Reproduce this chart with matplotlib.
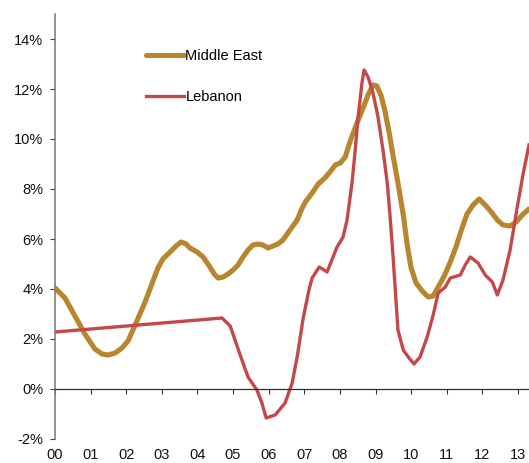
import matplotlib
matplotlib.use('Agg')
import matplotlib.pyplot as plt

plt.rcParams['font.family'] = ['Liberation Sans', 'DejaVu Sans']

# years since 2000 (decimal) and growth in %
me_x = [0.00, 0.28, 0.56, 0.84, 1.12, 1.32, 1.49, 1.69, 1.88, 2.05, 2.25, 2.53, 2.72, 2.89,
        3.03, 3.23, 3.40, 3.54, 3.68, 3.79, 3.99, 4.16, 4.35, 4.47, 4.58, 4.72, 4.86, 5.00,
        5.14, 5.28, 5.42, 5.56, 5.70, 5.84, 5.98, 6.12, 6.26, 6.40, 6.60, 6.80, 6.94, 7.05,
        7.22, 7.39, 7.58, 7.72, 7.87, 8.01, 8.15, 8.29, 8.48, 8.65, 8.79, 8.93, 9.04, 9.16,
        9.27, 9.38, 9.49, 9.63, 9.78, 9.89, 10.00, 10.14, 10.31, 10.48, 10.62, 10.76, 10.93,
        11.10, 11.26, 11.43, 11.57, 11.74, 11.91, 12.08, 12.25, 12.42, 12.58, 12.78, 12.95,
        13.12, 13.31]
me_y = [4.04, 3.64, 2.92, 2.20, 1.60, 1.40, 1.36, 1.44, 1.64, 1.92, 2.56, 3.48, 4.20, 4.84,
        5.20, 5.48, 5.72, 5.88, 5.80, 5.64, 5.48, 5.28, 4.88, 4.60, 4.44, 4.48, 4.60, 4.76,
        4.96, 5.28, 5.56, 5.76, 5.80, 5.76, 5.64, 5.72, 5.80, 5.96, 6.36, 6.76, 7.24, 7.52,
        7.84, 8.20, 8.44, 8.68, 8.96, 9.04, 9.28, 9.92, 10.64, 11.24, 11.76, 12.16, 12.12, 11.72,
        11.08, 10.28, 9.36, 8.24, 6.96, 5.76, 4.84, 4.24, 3.92, 3.68, 3.72, 4.08, 4.52,
        5.08, 5.68, 6.44, 7.00, 7.36, 7.60, 7.36, 7.08, 6.76, 6.56, 6.52, 6.68,
        6.96, 7.20]

leb_x = [0.00, 4.69, 4.92, 5.20, 5.42, 5.67, 5.81, 5.93, 6.18, 6.46, 6.66, 6.80, 6.97, 7.13,
         7.22, 7.42, 7.64, 7.92, 8.09, 8.20, 8.34, 8.43, 8.51, 8.62, 8.68, 8.79, 8.93, 9.07,
         9.21, 9.33, 9.41, 9.49, 9.55, 9.63, 9.78, 9.92, 10.08, 10.25, 10.45, 10.62, 10.76,
         10.96, 11.10, 11.38, 11.52, 11.66, 11.88, 12.08, 12.28, 12.42, 12.58, 12.78, 12.98,
         13.15, 13.31]
leb_y = [2.28, 2.84, 2.52, 1.36, 0.48, -0.04, -0.56, -1.16, -1.04, -0.56, 0.24, 1.28, 2.84, 3.96,
         4.44, 4.88, 4.68, 5.68, 6.08, 6.76, 8.24, 9.56, 10.88, 12.24, 12.76, 12.48, 11.84, 10.88,
         9.56, 8.24, 6.88, 5.36, 4.08, 2.36, 1.56, 1.28, 1.00, 1.28, 2.08, 2.96, 3.84,
         4.08, 4.44, 4.56, 4.96, 5.28, 5.04, 4.56, 4.28, 3.76, 4.36, 5.56, 7.28,
         8.64, 9.76]

year_ticks = list(range(14))
year_labels = ['%02d' % y for y in year_ticks]
pct_ticks = [-2, 0, 2, 4, 6, 8, 10, 12, 14]

gold = '#B8862F'
red = '#C4484A'
fs = 10.5

fig = plt.figure(figsize=(5.29, 4.63), dpi=100)
ax = fig.add_axes([55 / 529, 24 / 463, 474 / 529, 425 / 463])

ax.plot(me_x, me_y, color=gold, lw=3.7, solid_capstyle='round', solid_joinstyle='round',
        label='Middle East')
ax.plot(leb_x, leb_y, color=red, lw=2.4, solid_joinstyle='round', label='Lebanon')

ax.set_xlim(0, 13.31)
ax.set_ylim(-2, 15)

# y axis
ax.set_yticks(pct_ticks)
ax.set_yticklabels(['%d%%' % v for v in pct_ticks])
ax.spines['left'].set_color('#808080')
ax.spines['left'].set_linewidth(1.2)
ax.tick_params(axis='y', direction='out', length=3.5, width=0.8, color='#404040',
               labelsize=fs, pad=5, labelcolor='#111111')

# x axis line at zero, labels at bottom
ax.spines['bottom'].set_position(('data', 0))
ax.spines['bottom'].set_color('#303030')
ax.spines['bottom'].set_linewidth(0.9)
ax.spines['top'].set_visible(False)
ax.spines['right'].set_visible(False)
ax.set_xticks(year_ticks)
ax.tick_params(axis='x', direction='out', length=3.5, width=0.8, color='#303030',
               labelbottom=False)

sec = ax.secondary_xaxis('bottom')
sec.set_xticks(year_ticks)
sec.set_xticklabels(year_labels)
sec.spines['bottom'].set_visible(False)
sec.tick_params(axis='x', length=0, pad=6.5, labelsize=fs, labelcolor='#111111')

ax.legend(loc='upper left', bbox_to_anchor=(0.192, 0.918), frameon=False,
          borderaxespad=0, borderpad=0, handlelength=2.6, handletextpad=0.1,
          labelspacing=1.85, fontsize=fs)

fig.savefig('out.png', dpi=100)
